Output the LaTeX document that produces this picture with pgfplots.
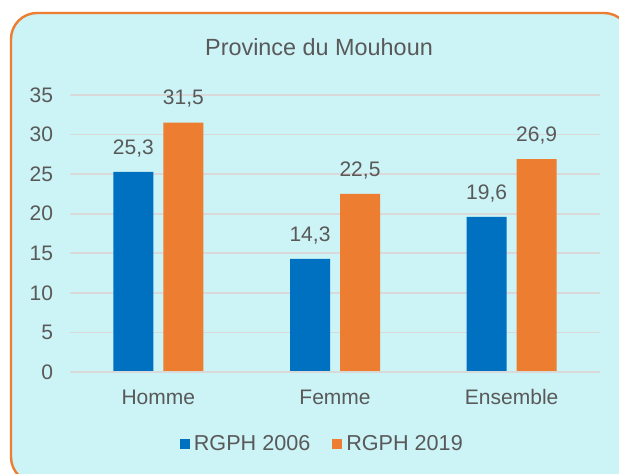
\documentclass[border=0pt]{standalone}
\usepackage{pgfplots}
\pgfplotsset{compat=1.18}
\usepackage{fontspec}
\setmainfont{Liberation Sans}
\definecolor{bgc}{RGB}{204,243,245}
\definecolor{brd}{RGB}{237,125,49}
\definecolor{cblue}{RGB}{0,112,192}
\definecolor{corange}{RGB}{237,125,49}
\definecolor{txt}{RGB}{89,89,89}
\definecolor{grd}{RGB}{217,217,217}
\begin{document}
\begin{tikzpicture}
\useasboundingbox (0,0) rectangle (309.5pt,236.5pt);
\clip (0,0) rectangle (309.5pt,236.5pt);
\fill[white] (0,0) rectangle (309.5pt,236.5pt);
\draw[brd, line width=1.2pt, fill=bgc, rounded corners=13pt] (5.5pt,230pt) rectangle (315pt,-5pt);
\node[txt, font=\fontsize{11.7pt}{14pt}\selectfont] at (159.5pt,213pt) {Province du Mouhoun};
\begin{axis}[
  at={(35pt,50.5pt)}, anchor=south west,
  scale only axis, width=265pt, height=138.5pt,
  ybar=5pt, bar width=20pt,
  xmin=-0.5, xmax=2.5, ymin=0, ymax=35,
  xtick=data, xticklabels={Homme,Femme,Ensemble},
  ytick={0,5,...,35},
  axis line style={draw=none},
  axis x line*=bottom,
  ymajorgrids, grid style={grd, line width=0.8pt},
  major tick length=0pt,
  tick label style={txt, font=\fontsize{10.5pt}{12pt}\selectfont},
  /pgf/number format/assume math mode=true,
  yticklabel style={xshift=-5pt},
  xticklabel style={text height=7.5pt, text depth=0pt, yshift=-5pt},
  nodes near coords,
  nodes near coords style={txt, font=\fontsize{10.5pt}{12pt}\selectfont, yshift=4pt,
    /pgf/number format/.cd, fixed, fixed zerofill, precision=1, use comma},
  legend style={at={(0.478,-0.26)}, anchor=center, draw=none, fill=none,
    legend columns=2, font=\fontsize{10.8pt}{12pt}\selectfont, text=txt,
    /tikz/every even column/.append style={column sep=9pt}},
  legend image code/.code={\fill[#1] (0pt,-2.5pt) rectangle (5pt,2.5pt);},
  clip=false,
]
\addplot[fill=cblue, draw=none] coordinates {(0,25.3) (1,14.3) (2,19.6)};
\addplot[fill=corange, draw=none] coordinates {(0,31.5) (1,22.5) (2,26.9)};
\legend{RGPH 2006, RGPH 2019}
\draw[grd, line width=0.8pt] (rel axis cs:0,0) -- (rel axis cs:1,0);
\end{axis}
\end{tikzpicture}
\end{document}
